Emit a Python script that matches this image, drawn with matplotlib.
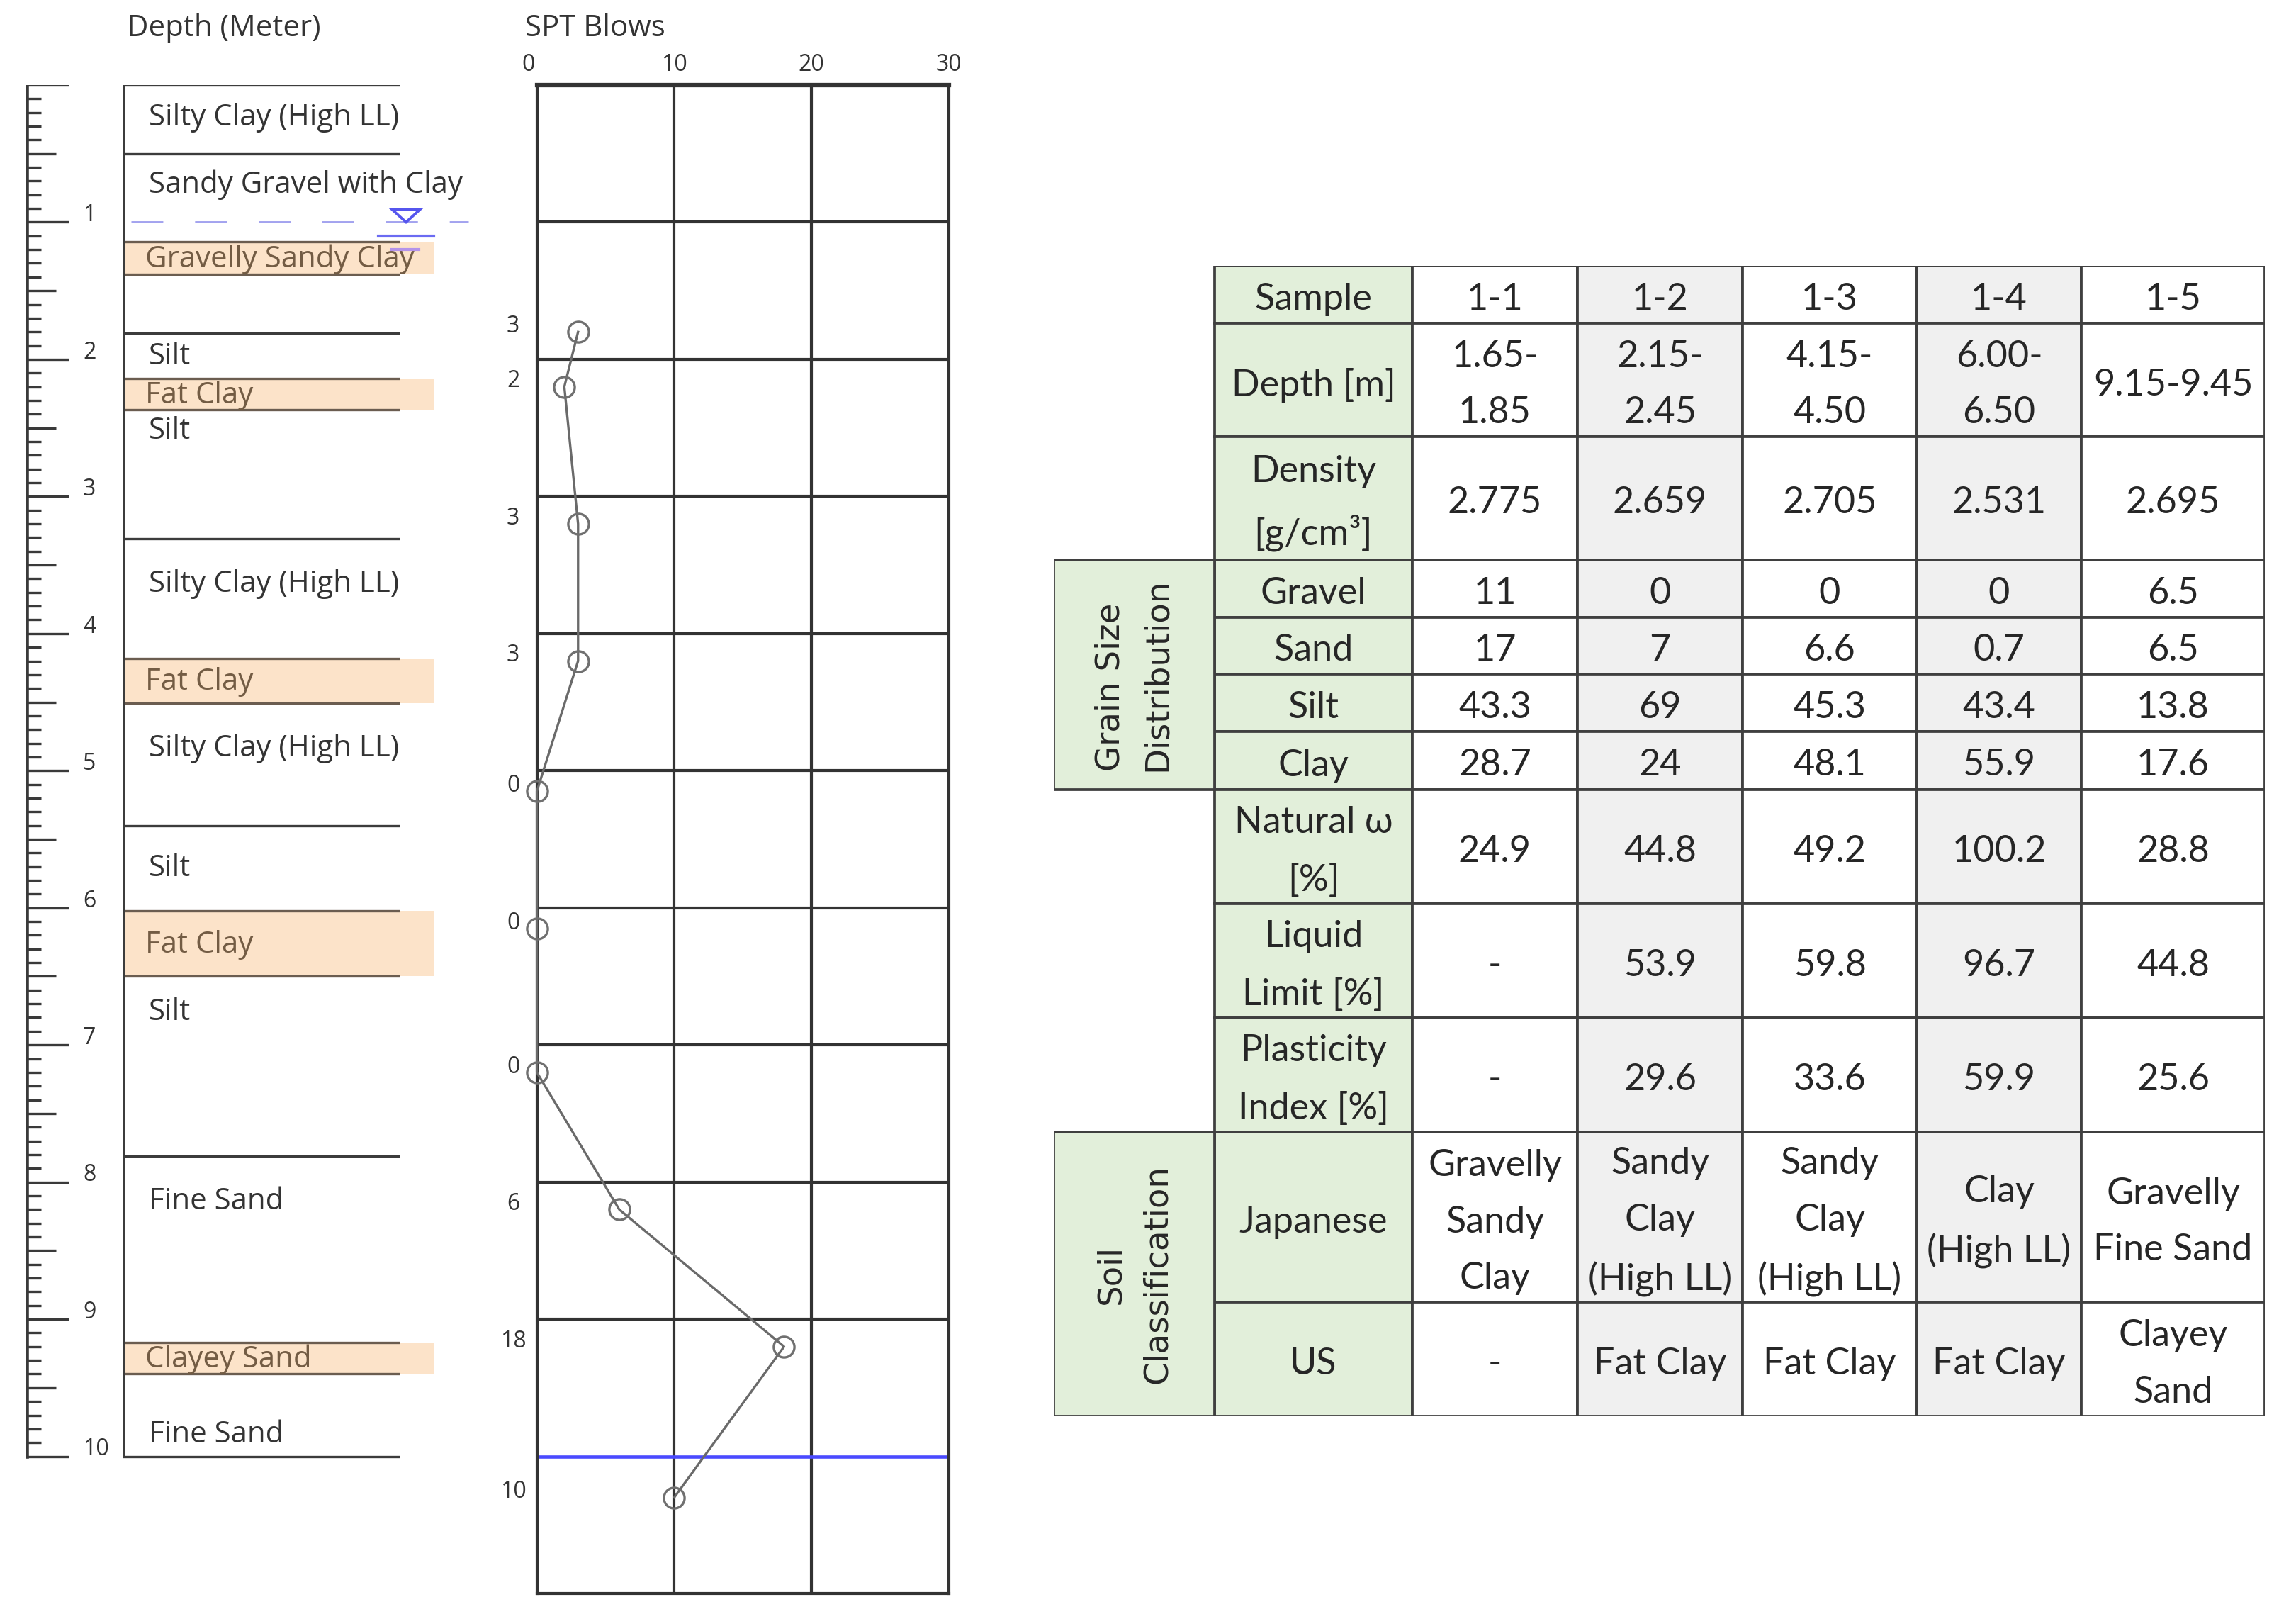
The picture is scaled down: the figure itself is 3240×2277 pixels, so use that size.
import matplotlib
matplotlib.use("Agg")
import matplotlib.pyplot as plt
from matplotlib.patches import Rectangle, Polygon
from matplotlib.transforms import ScaledTranslation

# ---------------- data ----------------
# soil log: main layer boundaries (m) and names
layer_bounds = [0.0, 0.50, 1.81, 3.31, 5.40, 7.81, 10.0]
# sample bands (highlighted)
band_tops = [1.14, 2.14, 4.18, 6.02, 9.17]
band_bottoms = [1.38, 2.37, 4.51, 6.50, 9.40]
band_names = ["Gravelly Sandy Clay", "Fat Clay", "Fat Clay", "Fat Clay", "Clayey Sand"]
# layer labels and the depth at which they are written
layer_labels = ["Silty Clay (High LL)", "Sandy Gravel with Clay", "Silt", "Silt",
                "Silty Clay (High LL)", "Silty Clay (High LL)", "Silt", "Silt",
                "Fine Sand", "Fine Sand"]
layer_label_depths = [0.24, 0.73, 1.98, 2.52, 3.64, 4.84, 5.71, 6.76, 8.14, 9.84]
water_table_depth = 1.0
ruler_labels = [1, 2, 3, 4, 5, 6, 7, 8, 9, 10]

# SPT
spt_depth = [1.80, 2.20, 3.20, 4.20, 5.15, 6.15, 7.20, 8.20, 9.20, 10.30]
spt_blows = [3, 2, 3, 3, 0, 0, 0, 6, 18, 10]
spt_ticks = [0, 10, 20, 30]
borehole_bottom = 10.0

# table
samples = ["1-1", "1-2", "1-3", "1-4", "1-5"]
depth_range = ["1.65-\n1.85", "2.15-\n2.45", "4.15-\n4.50", "6.00-\n6.50", "9.15-9.45"]
density = [2.775, 2.659, 2.705, 2.531, 2.695]
gravel = [11, 0, 0, 0, 6.5]
sand = [17, 7, 6.6, 0.7, 6.5]
silt = [43.3, 69, 45.3, 43.4, 13.8]
clay = [28.7, 24, 48.1, 55.9, 17.6]
natural_w = [24.9, 44.8, 49.2, 100.2, 28.8]
liquid_limit = [None, 53.9, 59.8, 96.7, 44.8]
plasticity_index = [None, 29.6, 33.6, 59.9, 25.6]
japanese_class = ["Gravelly\nSandy\nClay", "Sandy\nClay\n(High LL)", "Sandy\nClay\n(High LL)",
                  "Clay\n(High LL)", "Gravelly\nFine Sand"]
us_class = ["-", "Fat Clay", "Fat Clay", "Fat Clay", "Clayey\nSand"]
row_labels = ["Sample", "Depth [m]", "Density\n[g/cm³]", "Gravel", "Sand", "Silt", "Clay",
              "Natural ω\n[%]", "Liquid\nLimit [%]", "Plasticity\nIndex [%]", "Japanese", "US"]
group_labels = ["Grain Size\nDistribution", "Soil\nClassification"]


def fmt(v):
    if v is None:
        return "-"
    if isinstance(v, str):
        return v
    return f"{v:g}"


# ---------------- layout ----------------
W, H, DPI = 3240, 2277, 300
fig = plt.figure(figsize=(W / DPI, H / DPI), dpi=DPI)
fig.patch.set_facecolor("white")


def fx(px):
    return px / W


def fy(py):
    return 1 - py / H


TOP, BOT = 120, 2248          # pixel rows for depth 0 and 11
LEFT_FONT = ["Open Sans", "DejaVu Sans"]
TXT = "#333333"
LSIZE = 10.1

# ---------------- soil log ----------------
ax = fig.add_axes([0, fy(BOT), fx(700), (BOT - TOP) / H])
ax.set_xlim(0, 700)
ax.set_ylim(11, 0)
ax.axis("off")

# ruler
ruler_x = 38
ticks = [i / 10 for i in range(101)]
lens = [59 if i % 10 == 0 else (41 if i % 5 == 0 else 20) for i in range(101)]
for d, L in zip(ticks, lens):
    ax.plot([ruler_x, ruler_x + L], [d, d], color="#3a3a3a", lw=0.8,
            solid_capstyle="butt")
ax.plot([ruler_x, ruler_x], [0, 10], color="#3a3a3a", lw=1.1)
for v in ruler_labels:
    ax.text(117, v - 0.05, str(v), ha="left", va="center", fontsize=7.7,
            family=LEFT_FONT, color=TXT)

# bands
for t, b, name in zip(band_tops, band_bottoms, band_names):
    ax.add_patch(Rectangle((175, t), 612 - 175, b - t, facecolor="#fce3c9",
                           edgecolor="none", zorder=1))
    ax.plot([175, 562], [t, t], color="#6b5d50", lw=0.8, zorder=2)
    ax.plot([175, 562], [b, b], color="#6b5d50", lw=0.8, zorder=2)
    ax.text(205, (t + b) / 2 + 0.01, name, ha="left", va="center", fontsize=LSIZE,
            family=LEFT_FONT, color="#735c44", zorder=3)

# layer lines
for d in layer_bounds:
    ax.plot([175, 562], [d, d], color="#3c3c3c", lw=0.8, zorder=2)
ax.plot([175, 175], [0, 10], color="#3c3c3c", lw=0.9, zorder=2)

for name, d in zip(layer_labels, layer_label_depths):
    ax.text(210, d, name, ha="left", va="center", fontsize=LSIZE,
            family=LEFT_FONT, color=TXT, zorder=3)

# water table symbol
ax.plot([185, 661], [water_table_depth] * 2, color="#a3a3ef", lw=0.7,
        ls=(0, (15.4, 15.4)), clip_on=False, zorder=2)
ax.add_patch(Polygon([(553, water_table_depth - 0.094), (593, water_table_depth - 0.094),
                      (573, water_table_depth)], closed=True, facecolor="white",
                     edgecolor="#5656ee", lw=0.9, zorder=3))
ax.plot([534, 612], [water_table_depth + 0.10] * 2, color="#6b6bf2", lw=1.0, zorder=3)
ax.plot([553, 591], [water_table_depth + 0.20] * 2, color="#b493ea", lw=1.0, zorder=3)

fig.text(fx(179), fy(40), "Depth (Meter)", ha="left", va="center", fontsize=LSIZE,
         family=LEFT_FONT, color=TXT)

# ---------------- SPT plot ----------------
sx0, sx1 = 757.6, 1339
ax2 = fig.add_axes([fx(sx0), fy(BOT), (sx1 - sx0) / W, (BOT - TOP) / H])
ax2.set_xlim(0, 30)
ax2.set_ylim(11, 0)
ax2.set_facecolor("white")
for x in spt_ticks[1:-1]:
    ax2.axvline(x, color="#333333", lw=1.0, zorder=1)
for d in range(1, 11):
    if d != borehole_bottom:
        ax2.axhline(d, color="#333333", lw=1.0, zorder=1)
ax2.axhline(borehole_bottom, color="#4a4aff", lw=1.1, zorder=2)
for s in ax2.spines.values():
    s.set_color("#333333")
    s.set_linewidth(1.0)
ax2.spines["top"].set_linewidth(1.5)
ax2.xaxis.tick_top()
ax2.set_xticks(spt_ticks)
ax2.set_xticklabels([str(t) for t in spt_ticks], family=LEFT_FONT, fontsize=7.7,
                    color=TXT)
ax2.tick_params(axis="x", length=0, pad=3)
# first label sits slightly left of the axis line
first = ax2.get_xticklabels()[0]
first.set_transform(first.get_transform() + ScaledTranslation(-3 / 72, 0, fig.dpi_scale_trans))
ax2.set_yticks([])

ax2.plot(spt_blows, spt_depth, "-", color="#6a6a6a", lw=0.8, zorder=3, clip_on=False)
ax2.plot(spt_blows, spt_depth, "o", mfc="none", mec="#707070", mew=0.8, ms=7,
         zorder=4, clip_on=False)
for b, d in zip(spt_blows, spt_depth):
    ax2.text(-1.73, d - 0.04, str(b), ha="center", va="center", fontsize=7.7,
             family=LEFT_FONT, color=TXT)

fig.text(fx(741), fy(40), "SPT Blows", ha="left", va="center", fontsize=LSIZE,
         family=LEFT_FONT, color=TXT)

# ---------------- table ----------------
col_w = [227, 279, 233, 233, 246, 232, 259]
row_h = [81, 160, 174, 81, 80, 81, 82, 161, 161, 161, 240, 161]
tx0, ty0 = 1487, 375
TW, TH = sum(col_w), sum(row_h)
ax3 = fig.add_axes([fx(tx0), fy(ty0 + TH), TW / W, TH / H])
ax3.set_xlim(0, TW)
ax3.set_ylim(TH, 0)
ax3.axis("off")

xs = [sum(col_w[:i]) for i in range(len(col_w) + 1)]
ys = [sum(row_h[:i]) for i in range(len(row_h) + 1)]
GREEN = "#e2efda"
GREY = "#f0f0f0"
EDGE = "#3f3f3f"
TFONT = ["Lato", "DejaVu Sans"]
TCOL = "#262626"
TSIZE = 12.5
LSP = 1.86
DY = 7   # text sits a little below the geometric centre

table_rows = [samples, depth_range, density, gravel, sand, silt, clay, natural_w,
              liquid_limit, plasticity_index, japanese_class, us_class]

for r, (lab, vals) in enumerate(zip(row_labels, table_rows)):
    y0, y1 = ys[r], ys[r + 1]
    ax3.add_patch(Rectangle((xs[1], y0), col_w[1], y1 - y0, facecolor=GREEN,
                            edgecolor=EDGE, lw=0.9))
    ax3.text((xs[1] + xs[2]) / 2, (y0 + y1) / 2 + DY, lab, ha="center", va="center",
             fontsize=TSIZE, family=TFONT, color=TCOL, linespacing=LSP)
    for c, v in enumerate(vals):
        cx0 = xs[c + 2]
        fc = GREY if c in (1, 3) else "white"
        ax3.add_patch(Rectangle((cx0, y0), col_w[c + 2], y1 - y0, facecolor=fc,
                                edgecolor=EDGE, lw=0.9))
        ax3.text(cx0 + col_w[c + 2] / 2, (y0 + y1) / 2 + DY, fmt(v), ha="center",
                 va="center", fontsize=TSIZE, family=TFONT, color=TCOL,
                 linespacing=LSP)

# group cells
for (r0, r1), lab, ma in zip([(3, 7), (10, 12)], group_labels, ["left", "center"]):
    ax3.add_patch(Rectangle((xs[0], ys[r0]), col_w[0], ys[r1] - ys[r0],
                            facecolor=GREEN, edgecolor=EDGE, lw=0.9))
    ax3.text((xs[0] + xs[1]) / 2, (ys[r0] + ys[r1]) / 2, lab, rotation=90,
             ha="center", va="center", multialignment=ma, fontsize=11.2,
             family=["DejaVu Sans"], color=TCOL, linespacing=1.6)

fig.savefig("out.png", dpi=DPI, facecolor="white")
